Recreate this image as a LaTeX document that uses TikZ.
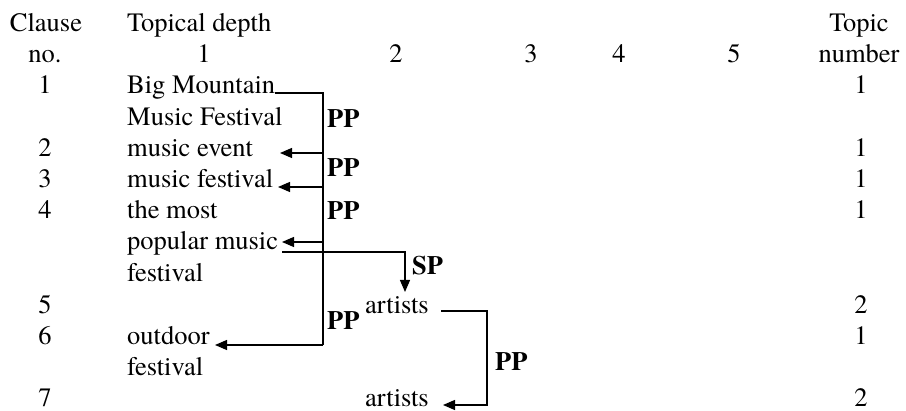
\documentclass[tikz,border=0pt]{standalone}
\usepackage{fontspec}
\setmainfont{texgyretermes}[Extension=.otf, UprightFont=*-regular, BoldFont=*-bold, ItalicFont=*-italic, BoldItalicFont=*-bolditalic]
\usetikzlibrary{arrows.meta}
\begin{document}
\begin{tikzpicture}[x=1pt,y=-1pt,
  txt/.style={inner sep=0pt, anchor=base west, font=\rmfamily\fontsize{26.5}{30}\selectfont},
  ctr/.style={inner sep=0pt, anchor=base, font=\rmfamily\fontsize{26.5}{30}\selectfont},
  lbl/.style={inner sep=0pt, anchor=base west, font=\rmfamily\fontsize{26.5}{30}\selectfont\bfseries},
  conn/.style={line width=1.2pt},
  arr/.style={line width=1.2pt, -{Triangle[length=12pt,width=10pt]}}]
\useasboundingbox (0,0) rectangle (906,411);
% header
\node[ctr] (hClause) at (46,32) {Clause};
\node[ctr] (hNo) at (45,62.5) {no.};
\node[txt] (hDepth) at (127,32) {Topical depth};
\node[ctr] (hTopic) at (859,32) {Topic};
\node[ctr] (hNumber) at (859,62.5) {number};
\node[ctr] (d1) at (204,62.5) {1};
\node[ctr] (d2) at (396,62.5) {2};
\node[ctr] (d3) at (531,62.5) {3};
\node[ctr] (d4) at (619,62.5) {4};
\node[ctr] (d5) at (734,62.5) {5};
% clause numbers
\node[ctr] (c1) at (45,93.8) {1};
\node[ctr] (c2) at (45,156.8) {2};
\node[ctr] (c3) at (45,187.6) {3};
\node[ctr] (c4) at (45,218.6) {4};
\node[ctr] (c5) at (45,313.2) {5};
\node[ctr] (c6) at (45,345) {6};
\node[ctr] (c7) at (45,407) {7};
% topic numbers
\node[ctr] (n1) at (861,93.8) {1};
\node[ctr] (n2) at (861,156.8) {1};
\node[ctr] (n3) at (861,187.6) {1};
\node[ctr] (n4) at (861,218.6) {1};
\node[ctr] (n5) at (861,313.2) {2};
\node[ctr] (n6) at (861,345) {1};
\node[ctr] (n7) at (861,407) {2};
% depth 1 texts
\node[txt] (bm) at (127,93.8) {Big Mountain};
\node[txt] (mf) at (127,125.3) {Music Festival};
\node[txt] (me) at (127,156.8) {music event};
\node[txt] (mfe) at (127,187.6) {music festival};
\node[txt] (tm) at (127,218.6) {the most};
\node[txt] (pm) at (127,250) {popular music};
\node[txt] (fe) at (127,281.5) {festival};
\node[txt] (od) at (127,345) {outdoor};
\node[txt] (fe2) at (127,376) {festival};
% depth 2 texts
\node[txt] (a1) at (365,313.2) {artists};
\node[txt] (a2) at (365,407) {artists};
% labels
\node[lbl] (pp1) at (327,128) {PP};
\node[lbl] (pp2) at (327,177) {PP};
\node[lbl] (pp3) at (327,220) {PP};
\node[lbl] (pp4) at (327,330) {PP};
\node[lbl] (sp) at (412,275) {SP};
\node[lbl] (pp5) at (495,371) {PP};
% coordinates
\coordinate (vTop) at (323,93);
\coordinate (vBot) at (323,345);
\coordinate (tEvent) at (280,153);
\coordinate (tFest) at (278,187);
\coordinate (tPop) at (282,242);
\coordinate (tOut) at (215,345);
\coordinate (spS) at (282,252);
\coordinate (spC) at (405,252);
\coordinate (spT) at (405,292);
\coordinate (aS) at (441,311);
\coordinate (aC1) at (487,311);
\coordinate (aC2) at (487,405);
\coordinate (aT) at (443,405);
% connectors
\draw[conn] (bm.base east |- vTop) -- (vTop) -- (vBot);
\draw[arr] (vTop |- tEvent) -- (tEvent);
\draw[arr] (vTop |- tFest) -- (tFest);
\draw[arr] (vTop |- tPop) -- (tPop);
\draw[arr] (vBot) -- (tOut);
\draw[arr] (spS) -- (spC) -- (spT);
\draw[arr] (aS) -- (aC1) -- (aC2) -- (aT);
\end{tikzpicture}
\end{document}
